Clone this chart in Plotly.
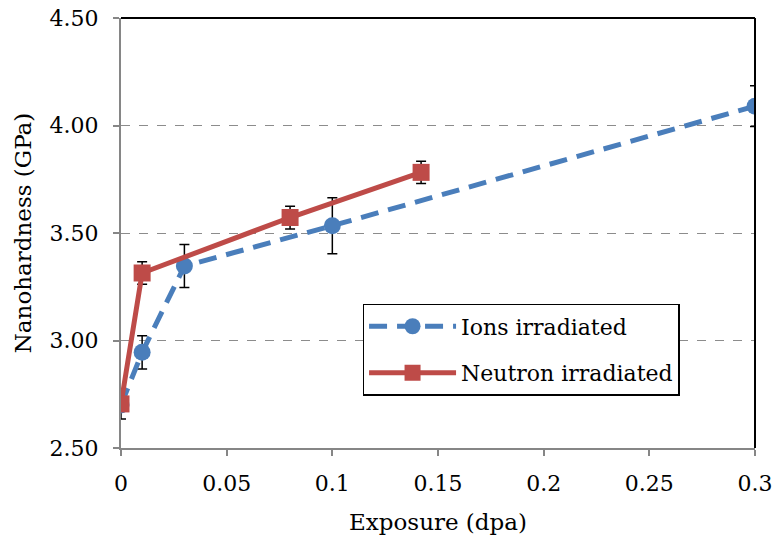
import plotly.graph_objects as go

ion_x = [0, 0.01, 0.03, 0.1, 0.3]
ion_y = [2.70, 2.945, 3.346, 3.534, 4.09]
ion_err = [0.065, 0.077, 0.10, 0.13, 0.095]

neu_x = [0, 0.01, 0.08, 0.142]
neu_y = [2.705, 3.314, 3.572, 3.782]
neu_err = [0.02, 0.052, 0.053, 0.052]

x_ticks = [0, 0.05, 0.1, 0.15, 0.2, 0.25, 0.3]
x_labels = ["0", "0.05", "0.1", "0.15", "0.2", "0.25", "0.3"]
y_ticks = [2.5, 3.0, 3.5, 4.0, 4.5]
y_labels = ["2.50", "3.00", "3.50", "4.00", "4.50"]

FONT = "DejaVu Serif"
blue = "#4a7ebb"
red = "#be4b48"

fig = go.Figure()
fig.add_trace(go.Scatter(
    x=ion_x, y=ion_y, name="Ions irradiated", mode="lines+markers", legendgroup="a",
    line=dict(color=blue, width=5, dash="18px,10px"),
    marker=dict(symbol="circle", size=17, color=blue),
    error_y=dict(type="data", array=ion_err, color="black", thickness=1.5, width=5),
))
fig.add_trace(go.Scatter(
    x=neu_x, y=neu_y, name="Neutron irradiated", mode="lines+markers", legendgroup="b",
    line=dict(color=red, width=5),
    marker=dict(symbol="square", size=17, color=red),
    error_y=dict(type="data", array=neu_err, color="black", thickness=1.5, width=5),
))

fig.update_layout(
    width=774, height=539,
    margin=dict(l=121, r=19, t=18, b=91, autoexpand=False),
    paper_bgcolor="white", plot_bgcolor="white",
    font=dict(family=FONT, size=22, color="black"),
    showlegend=True,
    legend=dict(
        x=0.381, y=0.335, xanchor="left", yanchor="top",
        bordercolor="black", borderwidth=1.5, bgcolor="white",
        font=dict(family=FONT, size=22), tracegroupgap=15,
        itemwidth=87, entrywidth=345, entrywidthmode="pixels",
    ),
    xaxis=dict(
        range=[0, 0.3], tickvals=x_ticks, ticktext=x_labels, automargin=False,
        showgrid=False, zeroline=False, showline=True, linecolor="#868686", linewidth=2,
        ticks="outside", ticklen=6, tickcolor="#868686", tickwidth=2, ticklabelstandoff=9,
        title=dict(text="Exposure (dpa)", font=dict(family=FONT, size=23), standoff=18),
    ),
    yaxis=dict(
        range=[2.5, 4.5], tickvals=y_ticks, ticktext=y_labels, automargin=False,
        showgrid=True, gridcolor="#8c8c8c", griddash="dash", gridwidth=1.3,
        zeroline=False, showline=True, linecolor="#868686", linewidth=2,
        ticks="outside", ticklen=6, tickcolor="#868686", tickwidth=2, ticklabelstandoff=10,
        title=dict(text="Nanohardness (GPa)", font=dict(family=FONT, size=23), standoff=12),
    ),
)
fig.add_shape(type="line", xref="x domain", yref="y domain", x0=0, x1=1, y0=1, y1=1,
              line=dict(color="black", width=2))
fig.add_shape(type="line", xref="x domain", yref="y domain", x0=1, x1=1, y0=0, y1=1,
              line=dict(color="black", width=2))

fig.write_html("out.html")
